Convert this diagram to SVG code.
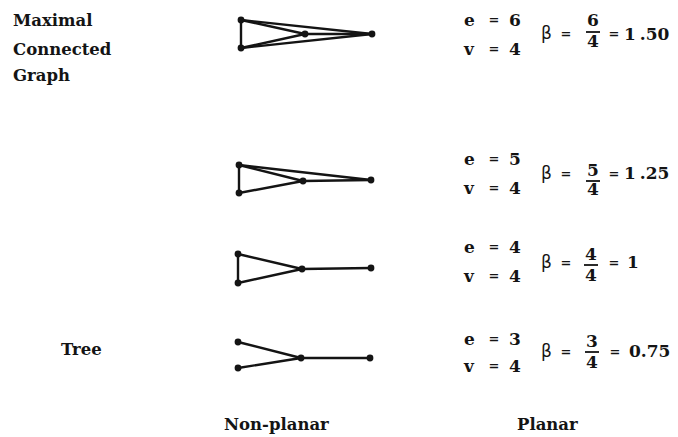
<svg xmlns="http://www.w3.org/2000/svg" width="678" height="437" viewBox="0 0 678 437">
<style>
.lbl{font-family:"DejaVu Serif","Liberation Serif",serif;font-weight:bold;font-size:16.5px;fill:#141414}
.f{font-family:"DejaVu Serif","Liberation Serif",serif;font-weight:bold;font-size:17px;fill:#141414}
.eq{font-family:"DejaVu Sans","Liberation Sans",sans-serif;font-weight:bold;font-size:13px;fill:#141414;text-anchor:middle}
.b{font-family:"DejaVu Sans","Liberation Sans",sans-serif;font-size:17px;fill:#141414}
.m{text-anchor:middle}
.e line{stroke:#141414;stroke-width:2.4;stroke-linecap:round}
.v{fill:#141414}
.bar{stroke:#141414;stroke-width:1.8}
</style>
<rect width="678" height="437" fill="#fff"/>

<g id="labels">
<text class="lbl" x="13" y="26">Maximal</text>
<text class="lbl" x="13" y="55">Connected</text>
<text class="lbl" x="13" y="81">Graph</text>
<text class="lbl" x="61" y="355">Tree</text>
<text class="lbl" x="224" y="430">Non-planar</text>
<text class="lbl" x="517" y="430">Planar</text>
</g>

<g id="connectors" class="e">
<line x1="241" y1="20" x2="241" y2="48"/>
<line x1="241" y1="20" x2="305" y2="34"/>
<line x1="241" y1="48" x2="305" y2="34"/>
<line x1="241" y1="20" x2="372" y2="34"/>
<line x1="241" y1="48" x2="372" y2="34"/>
<line x1="305" y1="34" x2="372" y2="34"/>

<line x1="239" y1="165" x2="239" y2="193"/>
<line x1="239" y1="165" x2="303" y2="181"/>
<line x1="239" y1="193" x2="303" y2="181"/>
<line x1="239" y1="165" x2="371" y2="180"/>
<line x1="303" y1="181" x2="371" y2="180"/>

<line x1="238" y1="254" x2="238" y2="283"/>
<line x1="238" y1="254" x2="302" y2="269"/>
<line x1="238" y1="283" x2="302" y2="269"/>
<line x1="302" y1="269" x2="371" y2="268"/>

<line x1="238" y1="342" x2="301" y2="358"/>
<line x1="238" y1="368" x2="301" y2="358"/>
<line x1="301" y1="358" x2="370" y2="358"/>
</g>

<g id="graph1" class="v">
<circle id="g1a" cx="241" cy="20" r="3.4"/>
<circle id="g1b" cx="241" cy="48" r="3.4"/>
<circle id="g1c" cx="305" cy="34" r="3.4"/>
<circle id="g1d" cx="372" cy="34" r="3.4"/>
</g>
<g id="graph2" class="v">
<circle id="g2a" cx="239" cy="165" r="3.4"/>
<circle id="g2b" cx="239" cy="193" r="3.4"/>
<circle id="g2c" cx="303" cy="181" r="3.4"/>
<circle id="g2d" cx="371" cy="180" r="3.4"/>
</g>
<g id="graph3" class="v">
<circle id="g3a" cx="238" cy="254" r="3.4"/>
<circle id="g3b" cx="238" cy="283" r="3.4"/>
<circle id="g3c" cx="302" cy="269" r="3.4"/>
<circle id="g3d" cx="371" cy="268" r="3.4"/>
</g>
<g id="graph4" class="v">
<circle id="g4a" cx="238" cy="342" r="3.4"/>
<circle id="g4b" cx="238" cy="368" r="3.4"/>
<circle id="g4c" cx="301" cy="358" r="3.4"/>
<circle id="g4d" cx="370" cy="358" r="3.4"/>
</g>

<g id="formula1">
<text class="f" x="464" y="26">e</text><text class="eq" x="494" y="24">=</text><text class="f" x="509" y="26">6</text>
<text class="f" x="464" y="55">v</text><text class="eq" x="494" y="53">=</text><text class="f" x="509" y="55">4</text>
<text class="b" x="541" y="39">β</text><text class="eq" x="566" y="38">=</text>
<text class="f m" x="593" y="26">6</text><line class="bar" x1="586" y1="32" x2="600" y2="32"/><text class="f m" x="593" y="47">4</text>
<text class="eq" x="614" y="38">=</text><text class="f" x="624" y="40">1<tspan dx="4">.50</tspan></text>
</g>

<g id="formula2">
<text class="f" x="464" y="165">e</text><text class="eq" x="494" y="163">=</text><text class="f" x="509" y="165">5</text>
<text class="f" x="464" y="194">v</text><text class="eq" x="494" y="192">=</text><text class="f" x="509" y="194">4</text>
<text class="b" x="541" y="179">β</text><text class="eq" x="566" y="178">=</text>
<text class="f m" x="593" y="176">5</text><line class="bar" x1="586" y1="181" x2="600" y2="181"/><text class="f m" x="593" y="195">4</text>
<text class="eq" x="614" y="178">=</text><text class="f" x="624" y="179">1<tspan dx="4">.25</tspan></text>
</g>

<g id="formula3">
<text class="f" x="464" y="253">e</text><text class="eq" x="494" y="251">=</text><text class="f" x="509" y="253">4</text>
<text class="f" x="464" y="282">v</text><text class="eq" x="494" y="280">=</text><text class="f" x="509" y="282">4</text>
<text class="b" x="541" y="268">β</text><text class="eq" x="566" y="267">=</text>
<text class="f m" x="591" y="260">4</text><line class="bar" x1="584" y1="265" x2="598" y2="265"/><text class="f m" x="591" y="281">4</text>
<text class="eq" x="614" y="267">=</text><text class="f" x="627" y="268">1</text>
</g>

<g id="formula4">
<text class="f" x="464" y="345">e</text><text class="eq" x="494" y="343">=</text><text class="f" x="509" y="345">3</text>
<text class="f" x="464" y="372">v</text><text class="eq" x="494" y="370">=</text><text class="f" x="509" y="372">4</text>
<text class="b" x="541" y="357">β</text><text class="eq" x="566" y="356">=</text>
<text class="f m" x="592" y="347">3</text><line class="bar" x1="585" y1="352" x2="599" y2="352"/><text class="f m" x="592" y="368">4</text>
<text class="eq" x="615" y="356">=</text><text class="f" x="629" y="357">0.75</text>
</g>
</svg>
